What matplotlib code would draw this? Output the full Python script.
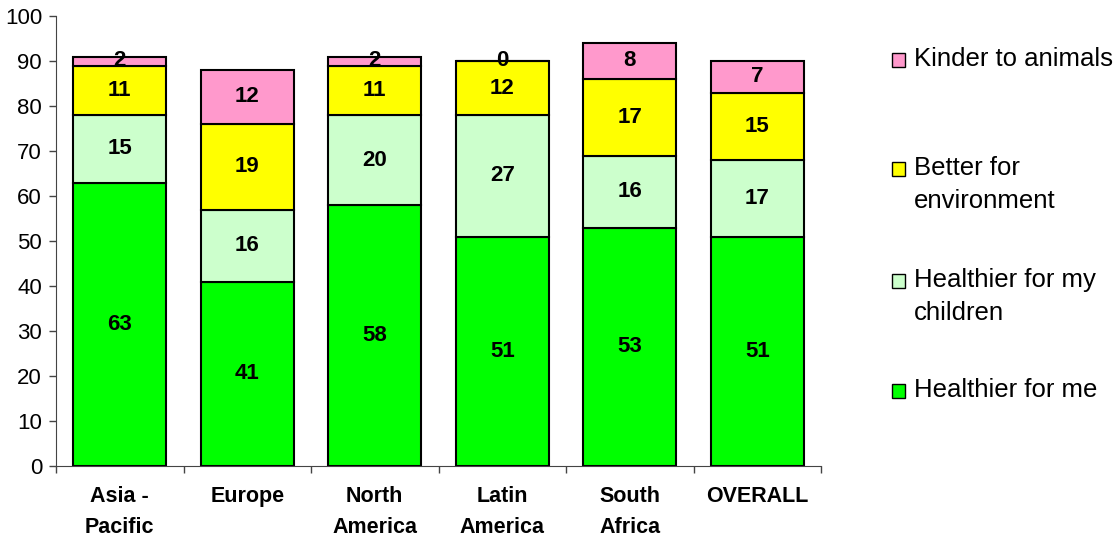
import numpy as np
import matplotlib
matplotlib.use('Agg')
import matplotlib.pyplot as plt
from matplotlib.patches import Rectangle
from matplotlib.transforms import blended_transform_factory

plt.rcParams['font.family'] = ['Liberation Sans', 'DejaVu Sans']

regions = ['Asia -\nPacific', 'Europe', 'North\nAmerica', 'Latin\nAmerica', 'South\nAfrica', 'OVERALL']
healthier_me = [63, 41, 58, 51, 53, 51]
healthier_children = [15, 16, 20, 27, 16, 17]
better_env = [11, 19, 11, 12, 17, 15]
kinder_animals = [2, 12, 2, 0, 8, 7]

series = [('Healthier for me', healthier_me, '#00FF00'),
          ('Healthier for my\nchildren', healthier_children, '#CCFFCC'),
          ('Better for\nenvironment', better_env, '#FFFF00'),
          ('Kinder to animals', kinder_animals, '#FF99CC')]

W, H = 1116, 537
fig = plt.figure(figsize=(W / 100, H / 100), dpi=100)
ax = fig.add_axes([56/W, 71/H, 765/W, 450/H])

x = np.arange(len(regions))
bottom = np.zeros(len(regions))
for name, vals, col in series:
    vals = np.array(vals, dtype=float)
    ax.bar(x, vals, width=0.73, bottom=bottom, color=col, edgecolor='black', linewidth=1.5, zorder=2)
    for xi, b, v in zip(x, bottom, vals):
        ax.text(xi, b + v / 2, f'{int(v)}', ha='center', va='center',
                fontsize=16, fontweight='bold', zorder=3)
    bottom += vals

ax.set_xlim(-0.5, len(regions) - 0.5)
ax.set_ylim(0, 100)
ax.set_yticks(np.arange(0, 101, 10))
ax.tick_params(axis='y', labelsize=16, length=5, width=1, color='#444444', pad=5)
ax.set_xticks(np.arange(-0.5, len(regions), 1))
ax.set_xticklabels([])
ax.tick_params(axis='x', length=5, width=1, color='#444444')

# category labels, one text per line so the baselines sit where the original has them
trans = blended_transform_factory(ax.transData, fig.transFigure)
for xi, lab in zip(x, regions):
    for k, line in enumerate(lab.split('\n')):
        ax.text(xi, 1 - (502 + 31 * k) / H, line, ha='center', va='baseline',
                fontsize=15.5, fontweight='bold', transform=trans)

for tag in ['top', 'right']:
    ax.spines[tag].set_visible(False)
for tag in ['left', 'bottom']:
    ax.spines[tag].set_color('#444444')

# legend drawn by hand to match the stacked layout
leg_base = [66, 175, 287, 397]
leg_items = [series[3], series[2], series[1], series[0]]
for (name, vals, col), by in zip(leg_items, leg_base):
    fig.patches.append(Rectangle((892/W, 1 - (by + 1)/H), 13/W, 14/H,
                                 facecolor=col, edgecolor='black', linewidth=1,
                                 transform=fig.transFigure, figure=fig))
    for k, line in enumerate(name.split('\n')):
        fig.text(914/W, 1 - (by + 33 * k)/H, line, ha='left', va='baseline', fontsize=18.5)

fig.savefig('out.png', dpi=100)
